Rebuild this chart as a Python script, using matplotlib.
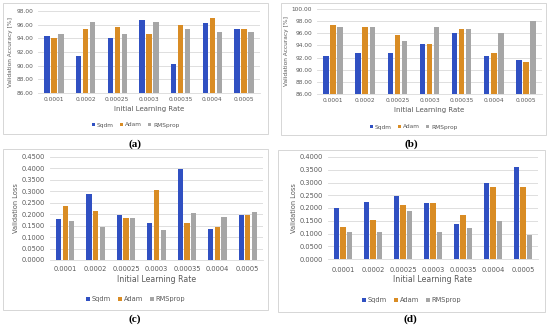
import numpy as np
import matplotlib.pyplot as plt
from matplotlib.patches import Rectangle

rates = ["0.0001", "0.0002", "0.00025", "0.0003", "0.00035", "0.0004", "0.0005"]
series = ["Sqdm", "Adam", "RMSprop"]

acc_a_sqdm = [94.4, 91.4, 94.0, 96.7, 90.3, 96.3, 95.4]
acc_a_adam = [94.0, 95.4, 95.7, 94.7, 96.0, 97.0, 95.4]
acc_a_rms = [94.7, 96.4, 94.7, 96.4, 95.4, 95.0, 95.0]

acc_b_sqdm = [92.3, 92.7, 92.7, 94.3, 96.0, 92.3, 91.6]
acc_b_adam = [97.3, 97.0, 95.7, 94.3, 96.7, 92.7, 91.3]
acc_b_rms = [97.0, 97.0, 94.7, 97.0, 96.7, 96.0, 98.0]

loss_c_sqdm = [0.179, 0.288, 0.195, 0.160, 0.396, 0.136, 0.197]
loss_c_adam = [0.236, 0.216, 0.184, 0.304, 0.160, 0.143, 0.198]
loss_c_rms = [0.170, 0.142, 0.184, 0.130, 0.205, 0.189, 0.210]

loss_d_sqdm = [0.201, 0.224, 0.248, 0.218, 0.136, 0.297, 0.361]
loss_d_adam = [0.124, 0.151, 0.213, 0.221, 0.171, 0.284, 0.282]
loss_d_rms = [0.107, 0.107, 0.189, 0.107, 0.121, 0.150, 0.094]

colors = ["#3050C2", "#D98C24", "#A6A6A6"]

W, H = 550, 326
fig = plt.figure(figsize=(W / 100, H / 100), dpi=100)
plt.rcParams['font.family'] = ['DejaVu Sans']


def fx(x):
    return x / W


def fy(y):
    return 1 - y / H


def panel(box, plot, data, ylim, step, fmt, ylabel, tick_y, xlab_y, leg_y, tag, tag_pos, fs):
    # chart border
    x0, y0, x1, y1 = box
    fig.patches.append(Rectangle((fx(x0), fy(y1)), fx(x1 - x0), (y1 - y0) / H,
                                 transform=fig.transFigure, fill=False,
                                 edgecolor="#D0D0D0", linewidth=0.6))
    px0, py0, px1, py1 = plot
    ax = fig.add_axes([fx(px0), fy(py1), fx(px1 - px0), (py1 - py0) / H])
    x = np.arange(len(rates))
    for i, vals in enumerate(data):
        ax.bar(x + (i - 1) * 0.22, vals, width=0.17, color=colors[i], label=series[i], zorder=3)
    ax.set_ylim(*ylim)
    ax.set_xlim(-0.5, len(rates) - 0.5)
    ticks = np.arange(ylim[0], ylim[1] + step / 2, step)
    ax.set_yticks(ticks)
    ax.set_yticklabels([fmt % t for t in ticks])
    ax.set_xticks(x)
    ax.set_xticklabels(rates)
    ax.tick_params(axis="both", length=0, labelsize=fs, colors="#595959")
    ax.tick_params(axis="x", pad=(tick_y - py1) - fs * 0.7)
    ax.grid(axis="y", color="#D9D9D9", linewidth=0.6, zorder=0)
    for s in ["top", "right", "left"]:
        ax.spines[s].set_visible(False)
    ax.spines["bottom"].set_color("#D9D9D9")
    ax.spines["bottom"].set_linewidth(0.6)
    ax.set_ylabel(ylabel, fontsize=fs, color="#595959", labelpad=2)
    fig.text(fx((px0 + px1) / 2), fy(xlab_y), "Initial Learning Rate", fontsize=fs + 0.8,
             color="#595959", ha="center", va="center")
    ax.legend(loc="center", bbox_to_anchor=(fx((x0 + x1) / 2), fy(leg_y)),
              bbox_transform=fig.transFigure, ncol=3, frameon=False, fontsize=fs,
              handlelength=0.6, handleheight=0.6, handletextpad=0.3, columnspacing=1.0,
              labelcolor="#595959")
    fig.text(fx(tag_pos[0]), fy(tag_pos[1]), tag, fontsize=8, fontweight="bold",
             family="Liberation Serif", ha="center", va="center")
    return ax


panel((3, 3, 268, 134), (38, 11, 260, 93), [acc_a_sqdm, acc_a_adam, acc_a_rms],
      (86, 98), 2, "%.2f", "Validation Accuracy [%]", 99, 109, 125, "(a)", (135, 144), 4.2)
panel((281, 3, 546, 135), (317, 9, 542, 94), [acc_b_sqdm, acc_b_adam, acc_b_rms],
      (86, 100), 2, "%.2f", "Validation Accuracy [%]", 100, 110, 127, "(b)", (411, 144), 4.2)
panel((3, 149, 268, 310), (50, 157, 263, 260), [loss_c_sqdm, loss_c_adam, loss_c_rms],
      (0, 0.45), 0.05, "%.4f", "Validation Loss", 268, 279, 299, "(c)", (135, 319), 4.8)
panel((278, 150, 545, 312), (328, 157, 538, 259), [loss_d_sqdm, loss_d_adam, loss_d_rms],
      (0, 0.40), 0.05, "%.4f", "Validation Loss", 268, 280, 300, "(d)", (410, 319), 4.8)

fig.savefig("out.png", dpi=100)
